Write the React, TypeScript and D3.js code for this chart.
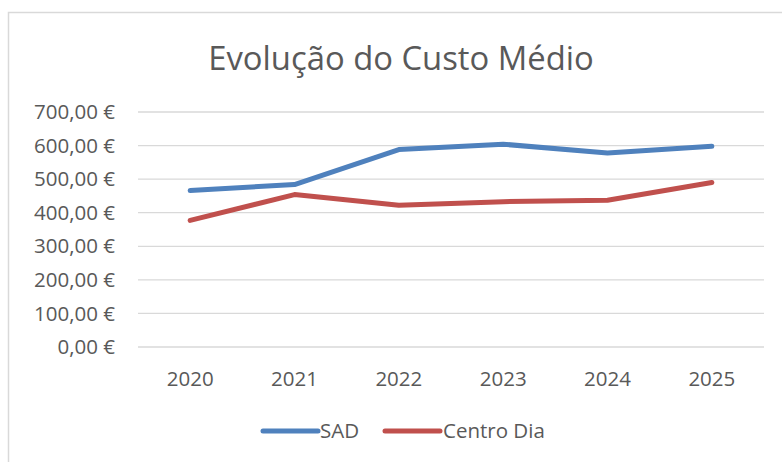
import React from 'react';
import * as d3 from 'd3';

const years = ['2020', '2021', '2022', '2023', '2024', '2025'];
const sadValues = [466, 484, 588, 604, 578, 598];
const centroDiaValues = [377, 454, 422, 433, 437, 490];
const yTicks = [0, 100, 200, 300, 400, 500, 600, 700];

const series = [
  { name: 'SAD', color: '#4f81bd', values: sadValues },
  { name: 'Centro Dia', color: '#c0504d', values: centroDiaValues },
];

const width = 782;
const height = 462;
const margin = { top: 112, right: 18, bottom: 115, left: 138 };
const font = '"Open Sans", sans-serif';
const textColor = '#595959';
const labelSize = 20.5;

const fmt = (v: number) => `${v},00 €`;

const App: React.FC = () => {
  const x = d3.scaleBand<string>()
    .domain(years)
    .range([margin.left, width - margin.right]);

  const y = d3.scaleLinear()
    .domain([0, 700])
    .range([height - margin.bottom, margin.top]);

  const line = d3.line<number>()
    .x((_, i) => (x(years[i]) ?? 0) + x.bandwidth() / 2)
    .y(d => y(d));

  const legendItems = [
    { x: 263, textX: 320 },
    { x: 385, textX: 443 },
  ];

  return (
    <svg
      width={width}
      height={height}
      style={{ position: 'fixed', left: 0, top: 0, background: '#fff' }}
    >
      <rect x={8.5} y={12.5} width={width + 20} height={height + 20} fill="#fff" stroke="#d9d9d9" strokeWidth={1.5} />

      <text x={401} y={70} textAnchor="middle" fontFamily={font} fontSize={32.8} fill={textColor}>
        Evolução do Custo Médio
      </text>

      {/* gridlines + y labels */}
      {yTicks.map(t => (
        <g key={t}>
          <line x1={margin.left} x2={width - margin.right} y1={y(t)} y2={y(t)} stroke="#d9d9d9" strokeWidth={1.3} />
          <text x={115} y={y(t)} dy="0.35em" textAnchor="end" fontFamily={font} fontSize={labelSize} fill={textColor}>
            {fmt(t)}
          </text>
        </g>
      ))}

      {/* x labels */}
      {years.map(yr => (
        <text key={yr} x={(x(yr) ?? 0) + x.bandwidth() / 2} y={386} textAnchor="middle" fontFamily={font} fontSize={labelSize} fill={textColor}>
          {yr}
        </text>
      ))}

      {/* lines */}
      {series.map(s => (
        <path key={s.name} d={line(s.values) ?? ''} fill="none" stroke={s.color} strokeWidth={5} strokeLinecap="round" strokeLinejoin="round" />
      ))}

      {/* legend */}
      {series.map((s, i) => (
        <g key={s.name}>
          <line x1={legendItems[i].x} x2={legendItems[i].x + 55} y1={431} y2={431} stroke={s.color} strokeWidth={5} strokeLinecap="round" />
          <text x={legendItems[i].textX} y={431} dy="0.35em" fontFamily={font} fontSize={labelSize} fill={textColor}>
            {s.name}
          </text>
        </g>
      ))}
    </svg>
  );
};

export default App;
